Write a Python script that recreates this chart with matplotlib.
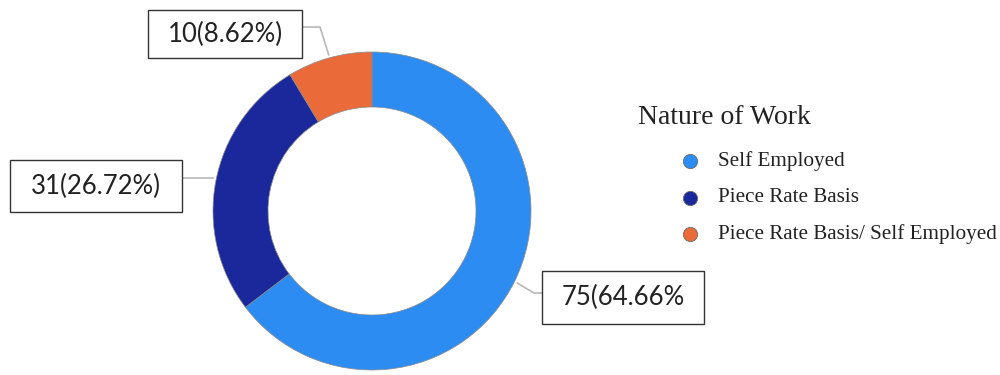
import numpy as np
import matplotlib
matplotlib.use("Agg")
import matplotlib.pyplot as plt
from matplotlib.patches import Rectangle

categories = ["Self Employed", "Piece Rate Basis", "Piece Rate Basis/ Self Employed"]
counts = [75, 31, 10]
pct_labels = ["75(64.66%", "31(26.72%)", "10(8.62%)"]
colors = ["#2d8cf2", "#1a289c", "#ea6a3a"]

W, H = 1000, 375
fig = plt.figure(figsize=(W / 100, H / 100), dpi=100)
ax = fig.add_axes([0, 0, 1, 1])

cx, cy, R = 372, 164, 159
wedges, _ = ax.pie(counts, colors=colors, startangle=90, counterclock=False,
                   radius=R, center=(cx, cy), frame=True,
                   wedgeprops=dict(width=55, edgecolor="#8a8a8a", linewidth=0.5))
ax.set_xlim(0, W)
ax.set_ylim(0, H)
ax.set_aspect("equal")
ax.axis("off")

# label boxes: (centre x, centre y, width, height) in pixels, plus leader side
boxes = [
    dict(c=(623, 78), w=162, h=53, side="left"),
    dict(c=(96, 189), w=172, h=52, side="right"),
    dict(c=(225, 341), w=154, h=48, side="right"),
]
line_col = "#b8b8b8"
for wdg, lab, b in zip(wedges, pct_labels, boxes):
    mid = np.deg2rad((wdg.theta1 + wdg.theta2) / 2)
    px, py = cx + 1.02 * R * np.cos(mid), cy + 1.02 * R * np.sin(mid)
    bx, by = b["c"]
    x0 = bx - b["w"] / 2
    ax.add_patch(Rectangle((x0, by - b["h"] / 2), b["w"], b["h"],
                           facecolor="white", edgecolor="#333333", lw=1.0, zorder=3))
    ax.text(bx, by, lab, ha="center", va="center", fontsize=18.5,
            family="Lato", color="#222222", zorder=4)
    if b["side"] == "left":
        ex = x0
        ax.plot([px, ex - 8, ex], [py, by + 4, by + 4], color=line_col, lw=1.2, zorder=2)
    else:
        ex = x0 + b["w"]
        if abs(py - by) < 15:
            ax.plot([ex, px], [by + 8, by + 8], color=line_col, lw=1.2, zorder=2)
        else:
            ax.plot([ex, ex + 18, px], [by + 7, by + 7, py], color=line_col, lw=1.2, zorder=2)

# legend
ax.text(638, H - 118, "Nature of Work", fontsize=20, family="Liberation Serif",
        color="#222222", ha="left", va="center")
for i, (name, col) in enumerate(zip(categories, colors)):
    yy = H - (161 + 36.5 * i)
    ax.scatter([690], [yy], s=105, color=col, edgecolors="#6a6a6a", linewidths=0.6, zorder=3)
    ax.text(718, yy, name, fontsize=15.2, family="Liberation Serif",
            color="#222222", ha="left", va="center")

fig.savefig("out.png", dpi=100, facecolor="white")
